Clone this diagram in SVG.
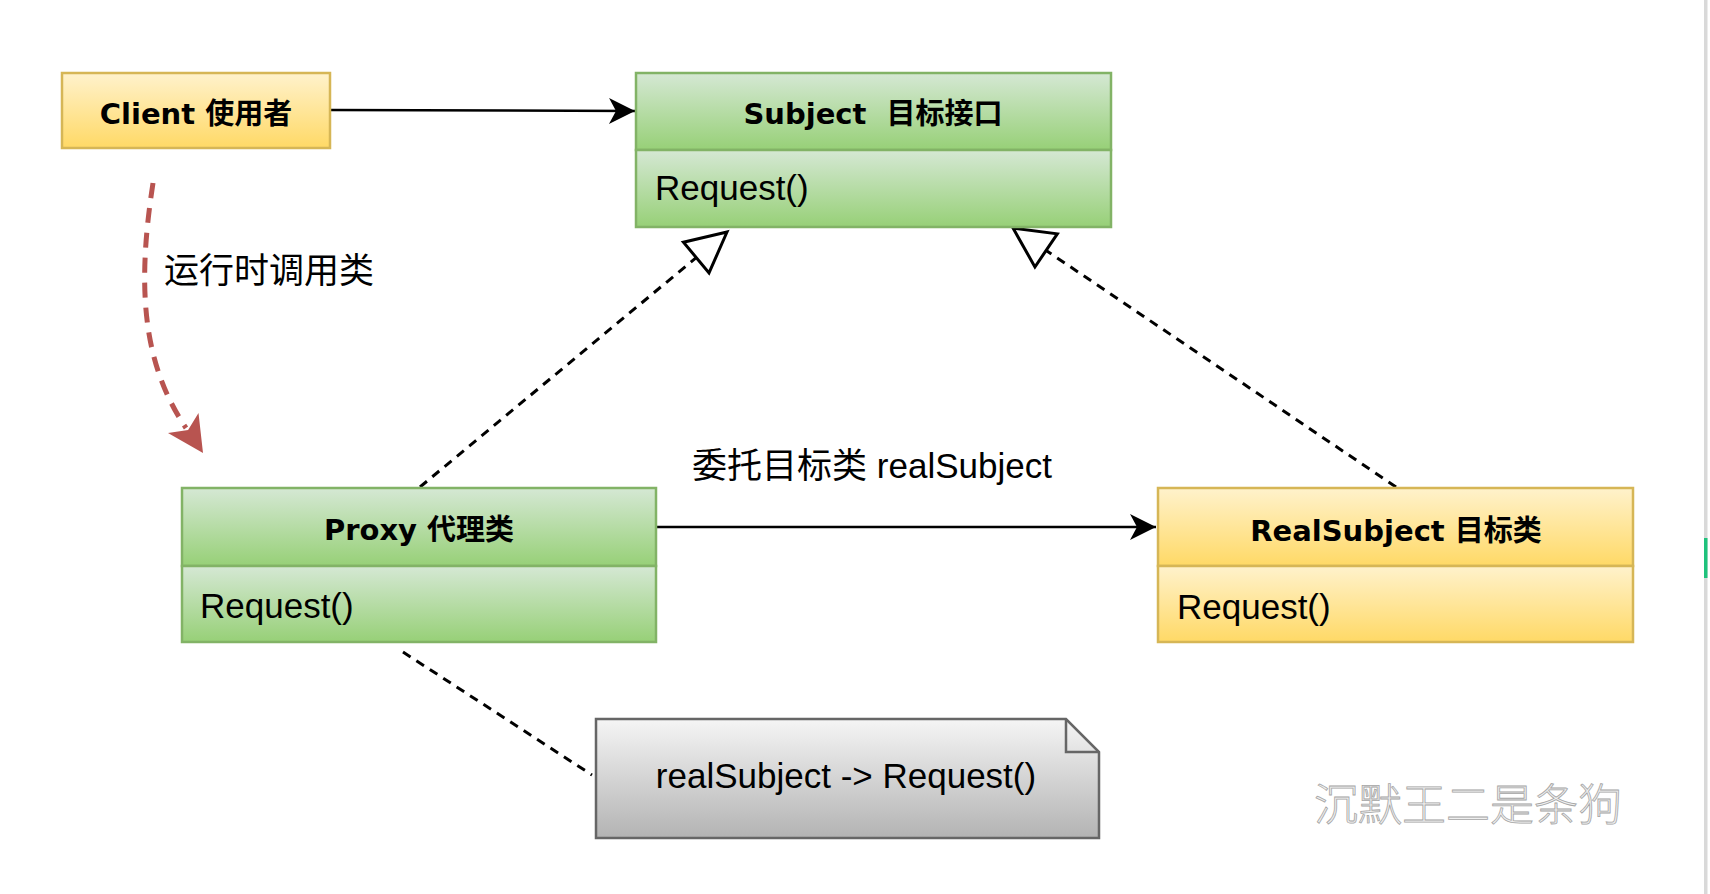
<svg xmlns="http://www.w3.org/2000/svg" width="1710" height="894" viewBox="0 0 1710 894">
<style>
.title{font-family:"DejaVu Sans","Noto Sans CJK SC",sans-serif;font-weight:bold;font-size:29px;fill:#000;text-anchor:middle}
.txt{font-family:"Liberation Sans","Noto Sans CJK SC",sans-serif;font-size:35px;fill:#000}
.box{stroke-width:2.5}
.green{fill:url(#gGreen);stroke:#82b366}
.yellow{fill:url(#gYellow);stroke:#d6b656}
.dash{fill:none;stroke:#000;stroke-width:3;stroke-dasharray:9 7}
.solid{fill:none;stroke:#000;stroke-width:2.5}
</style>
<defs>
<linearGradient id="gGreen" x1="0" y1="0" x2="0" y2="1"><stop offset="0" stop-color="#d5e8d4"/><stop offset="1" stop-color="#97d077"/></linearGradient>
<linearGradient id="gYellow" x1="0" y1="0" x2="0" y2="1"><stop offset="0" stop-color="#fff2cc"/><stop offset="1" stop-color="#ffd966"/></linearGradient>
<linearGradient id="gGray" x1="0" y1="0" x2="0" y2="1"><stop offset="0" stop-color="#f5f5f5"/><stop offset="1" stop-color="#b3b3b3"/></linearGradient>
<marker id="classic" markerUnits="userSpaceOnUse" orient="auto" overflow="visible" refX="0" refY="0" markerWidth="1" markerHeight="1"><path d="M0,0 L-26,-13 L-19,0 L-26,13 Z" fill="#000"/></marker>
<marker id="tri" markerUnits="userSpaceOnUse" orient="auto" overflow="visible" refX="0" refY="0" markerWidth="1" markerHeight="1"><path d="M0,0 L-40,-20 L-40,20 Z" fill="#fff" stroke="#000" stroke-width="3" stroke-linejoin="miter"/></marker>
</defs>
<rect width="1710" height="894" fill="#fff"/>

<g id="connectors">
<path class="solid" d="M330,110 L635,111" marker-end="url(#classic)"/>
<path class="solid" d="M656,527 L1156,527" marker-end="url(#classic)"/>
<path class="dash" d="M420,487 L727,232" marker-end="url(#tri)"/>
<path class="dash" d="M1396,487 L1013,228" marker-end="url(#tri)"/>
<path class="dash" d="M403,652 L592,775"/>
<path d="M153,183 C138,280 140,360 186,428" fill="none" stroke="#b85450" stroke-width="5" stroke-dasharray="15 10"/>
<path d="M203,453 L168,433 L188.1,430 L198.5,413 Z" fill="#b85450"/>
<text class="txt" x="164" y="283">运行时调用类</text>
<text class="txt" x="872" y="478" text-anchor="middle">委托目标类 realSubject</text>
</g>

<g id="client">
<rect class="box yellow" x="62" y="73" width="268" height="75"/>
<text class="title" x="196" y="124">Client 使用者</text>
</g>

<g id="subject">
<rect class="box green" x="636" y="73" width="475" height="77"/>
<rect class="box green" x="636" y="150" width="475" height="77"/>
<text class="title" x="873" y="124" xml:space="preserve">Subject  目标接口</text>
<text class="txt" x="655" y="200">Request()</text>
</g>

<g id="proxy">
<rect class="box green" x="182" y="488" width="474" height="78"/>
<rect class="box green" x="182" y="566" width="474" height="76"/>
<text class="title" x="419" y="540">Proxy 代理类</text>
<text class="txt" x="200" y="618">Request()</text>
</g>

<g id="realsubject">
<rect class="box yellow" x="1158" y="488" width="475" height="78"/>
<rect class="box yellow" x="1158" y="566" width="475" height="76"/>
<text class="title" x="1396" y="541">RealSubject 目标类</text>
<text class="txt" x="1177" y="619">Request()</text>
</g>

<g id="note">
<path d="M596,719 H1066 L1099,752 V838 H596 Z" fill="url(#gGray)" stroke="#666" stroke-width="2.5"/>
<path d="M1066,719 V752 H1099" fill="none" stroke="#666" stroke-width="2.5"/>
<text class="txt" x="846" y="788" text-anchor="middle">realSubject -&gt; Request()</text>
</g>

<text x="1314" y="821" font-family="Noto Sans CJK SC, sans-serif" font-weight="300" font-size="44" fill="#efefef" stroke="#a5a5a5" stroke-width="0.8">沉默王二是条狗</text>

<rect x="1704" y="0" width="3.5" height="894" fill="#d9d9d9"/>
<rect x="1704" y="538" width="3.5" height="40" fill="#1fc27c"/>
</svg>
